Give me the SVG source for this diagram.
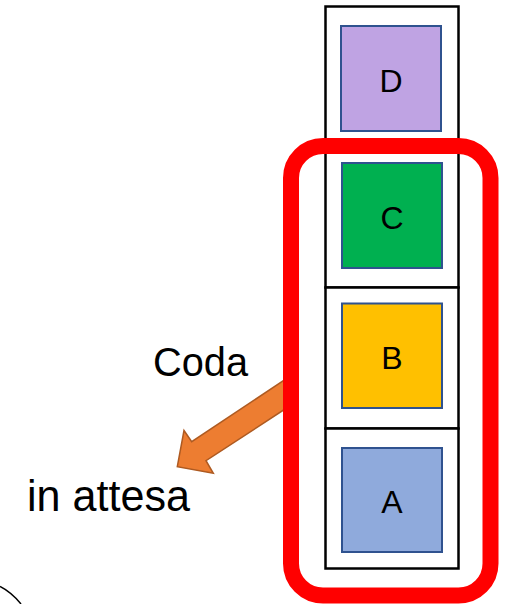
<svg xmlns="http://www.w3.org/2000/svg" width="509" height="604" viewBox="0 0 509 604">
<style>
.cell{fill:#ffffff;stroke:#000000;stroke-width:2.5}
.sq{stroke:#2F528F;stroke-width:2}
.lbl{font-family:"Liberation Sans",Arial,sans-serif;font-size:32px;fill:#000;text-anchor:middle}
.txt{font-family:"Liberation Sans",Arial,sans-serif;fill:#000}
</style>
<rect width="509" height="604" fill="#ffffff"/>
<g id="column">
<rect class="cell" x="325.5" y="6.5" width="133" height="141"/>
<rect class="cell" x="325.5" y="147.5" width="133" height="140"/>
<rect class="cell" x="325.5" y="287.5" width="133" height="141"/>
<rect class="cell" x="325.5" y="428.5" width="133" height="140"/>
</g>
<g id="node-D">
<rect class="sq" x="341" y="26" width="100" height="105" fill="#BFA3E3"/>
<text class="lbl" x="391" y="91.5">D</text>
</g>
<g id="node-C">
<rect class="sq" x="342" y="163" width="100" height="105" fill="#00B050"/>
<text class="lbl" x="392" y="228.5">C</text>
</g>
<g id="node-B">
<rect class="sq" x="342" y="303.5" width="100" height="104.5" fill="#FFC000"/>
<text class="lbl" x="392" y="368.5">B</text>
</g>
<g id="node-A">
<rect class="sq" x="342" y="448" width="100" height="104" fill="#8FAADC"/>
<text class="lbl" x="392" y="512.5">A</text>
</g>
<g id="connectors">
<polygon points="177.3,466.7 184,430.5 191.7,441.7 292,375 292,404.5 206,460.7 213.3,473.3" fill="#ED7D31" stroke="#AE5A21" stroke-width="1.5" stroke-linejoin="miter"/>
<path d="M0,586.5 Q11,592 21,604" fill="none" stroke="#000" stroke-width="1.5"/>
</g>
<g id="highlight">
<rect x="291" y="146" width="199.5" height="449.5" rx="32" ry="32" fill="none" stroke="#FF0000" stroke-width="16"/>
</g>
<g id="labels">
<text class="txt" x="153" y="375.5" font-size="40" textLength="95" lengthAdjust="spacingAndGlyphs">Coda</text>
<text class="txt" x="27" y="511" font-size="44" textLength="163" lengthAdjust="spacingAndGlyphs">in attesa</text>
</g>
</svg>
